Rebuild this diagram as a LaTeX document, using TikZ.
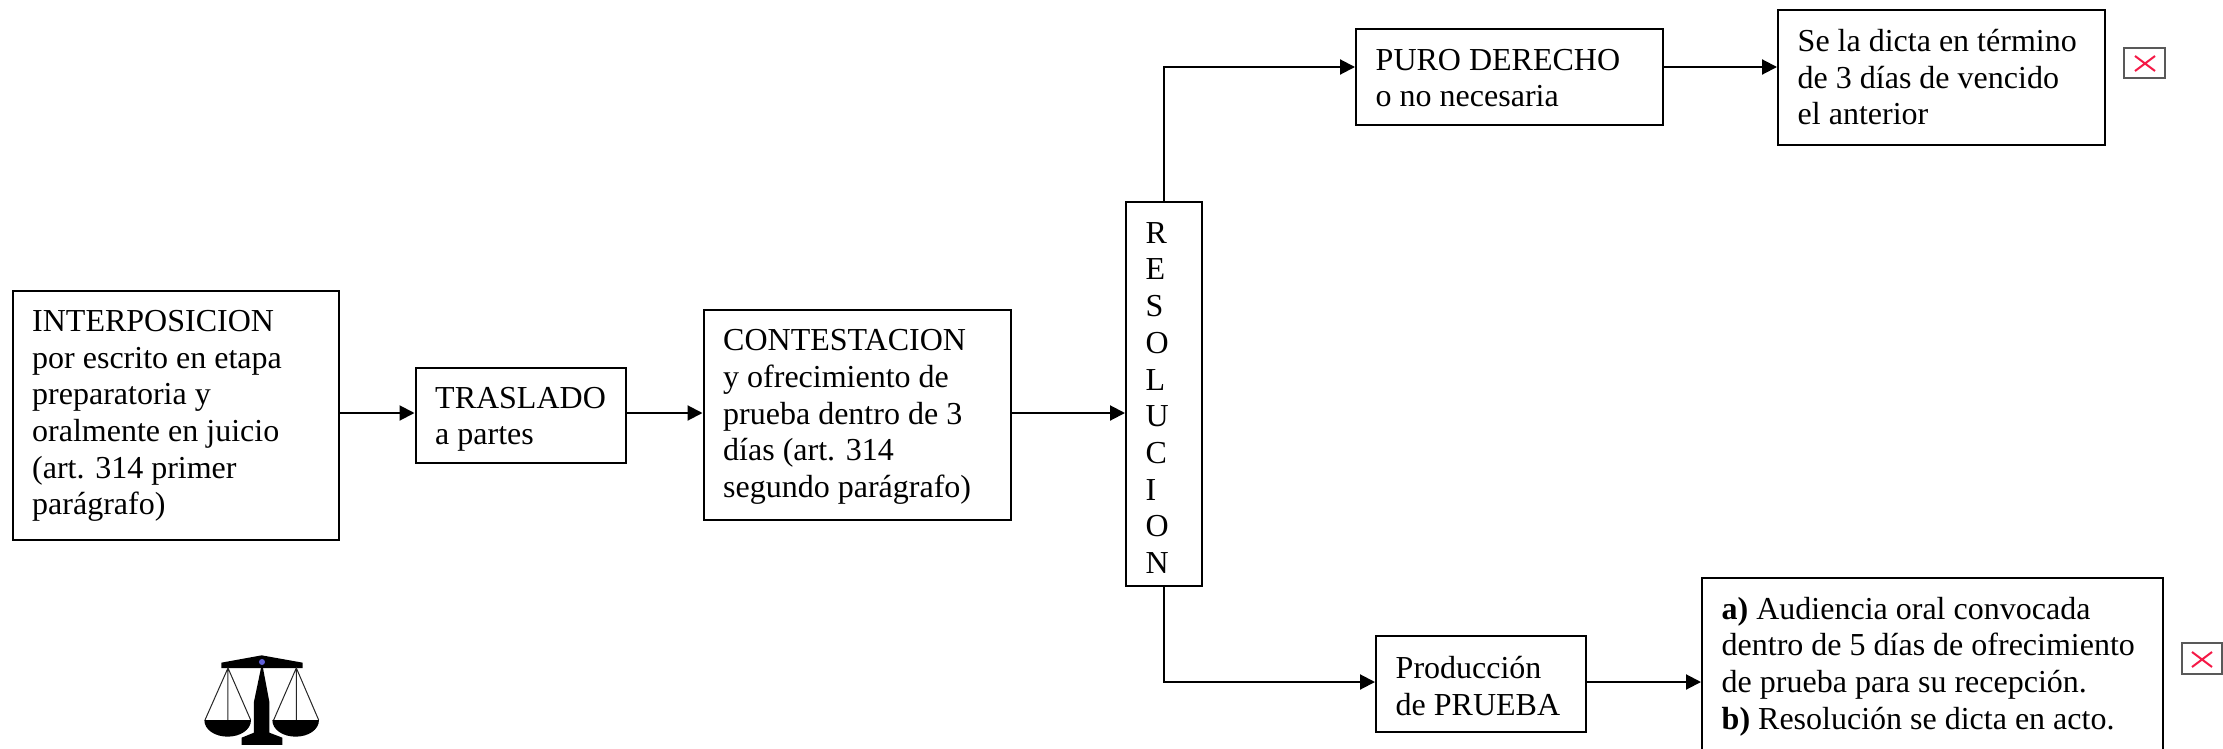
\documentclass[tikz,border=0pt]{standalone}
\usepackage{fontspec}
\setmainfont{Liberation Serif}
\usetikzlibrary{arrows.meta}
\definecolor{crossred}{RGB}{245,25,70}
\tikzset{
  x=1pt,y=-1pt,
  flowbox/.style={draw=black,line width=2pt,anchor=center,inner sep=0pt},
  flowtext/.style={anchor=west,inner sep=0pt,align=left,font=\fontsize{32}{36.7}\selectfont},
  flow/.style={draw=black,line width=2pt,-{Triangle[length=15pt,width=15pt]}},
  brokenframe/.style={draw=black!65,line width=1.6pt,fill=white},
  brokencross/.style={draw=crossred,line width=2pt},
  scaleink/.style={fill=black,draw=none},
  scalecord/.style={draw=black!85,line width=1pt}
}
% name, left, top, right, bottom, text, downward shift of text
\newcommand{\fbx}[7]{%
  \node[flowbox,minimum width=#4pt-#2pt,minimum height=#5pt-#3pt] (#1) at ({(#2+#4)/2},{(#3+#5)/2}) {};
  \node[flowtext,xshift=20.5pt,yshift=-#7pt] (#1t) at (#1.west) {#6};}
\begin{document}
\begin{tikzpicture}
\useasboundingbox (0,0) rectangle (2223,749);
\fbx{inter}{12.5}{291}{339}{540}{INTERPOSICION\\por escrito en etapa\\preparatoria y\\oralmente en juicio\\(art. 314 primer\\parágrafo)}{0.5}
\fbx{tras}{415.5}{367.5}{626}{463}{TRASLADO\\a partes}{4.2}
\fbx{cont}{703.5}{310}{1011}{520}{CONTESTACION\\y ofrecimiento de\\prueba dentro de 3\\días (art. 314\\segundo parágrafo)}{2}
\fbx{res}{1126}{202}{1202}{585.5}{R\\E\\S\\O\\L\\U\\C\\I\\O\\N}{4.2}
\fbx{puro}{1356}{29.5}{1663}{125}{PURO DERECHO\\o no necesaria}{0.8}
\fbx{dicta}{1778}{10}{2105}{145}{Se la dicta en término\\de 3 días de vencido\\el anterior}{-0.3}
\fbx{prod}{1376}{636}{1586}{732}{Producción\\de PRUEBA}{2}
\fbx{audi}{1702}{578}{2163}{754}{\textbf{a)} Audiencia oral convocada\\dentro de 5 días de ofrecimiento\\de prueba para su recepción.\\\textbf{b)} Resolución se dicta en acto.}{0.5}
\coordinate (upper) at (0,67);
\coordinate (middle) at (0,413);
\coordinate (lower) at (0,682);
\draw[flow] (inter.east |- middle) -- (tras.west |- middle);
\draw[flow] (tras.east |- middle) -- (cont.west |- middle);
\draw[flow] (cont.east |- middle) -- (res.west |- middle);
\draw[flow] (res.north) |- (puro.west |- upper);
\draw[flow] (puro.east |- upper) -- (dicta.west |- upper);
\draw[flow] (res.south) |- (prod.west |- lower);
\draw[flow] (prod.east |- lower) -- (audi.west |- lower);
\node[brokenframe,minimum width=41pt,minimum height=30pt,inner sep=0pt] (brokenA) at (2144.5,63) {};
\draw[brokencross] (2135,56) -- (2155,71) (2135,71) -- (2155,56);
\node[brokenframe,minimum width=40pt,minimum height=31pt,inner sep=0pt] (brokenB) at (2202,658.5) {};
\draw[brokencross] (2192,652) -- (2212,667) (2192,667) -- (2212,652);
\begin{scope}[shift={(180,640)},x=0.3333pt,y=-0.3333pt]
  \fill[scaleink] (124,68) -- (245,46) -- (368,68) -- (368,84) -- (124,84) -- cycle;
  \fill[scaleink] (243,84) -- (249,84) -- (268,185) -- (268,278) -- (307,293) -- (307,315) -- (185,315) -- (185,293) -- (222,278) -- (222,185) -- cycle;
  \fill[blue!55!white!85!black] (246,66) circle[radius=9];
  \draw[scalecord] (75,240) -- (144,84) -- (212,240) (144,84) -- (144,240);
  \draw[scalecord] (281,240) -- (349,84) -- (416,240) (349,84) -- (349,240);
  \fill[scaleink] (73,240) -- (213,240) .. controls (213,270) and (180,290) .. (143,290) .. controls (106,290) and (73,270) .. (73,240) -- cycle;
  \fill[scaleink] (277,240) -- (417,240) .. controls (417,270) and (384,290) .. (347,290) .. controls (310,290) and (277,270) .. (277,240) -- cycle;
\end{scope}
\end{tikzpicture}
\end{document}
